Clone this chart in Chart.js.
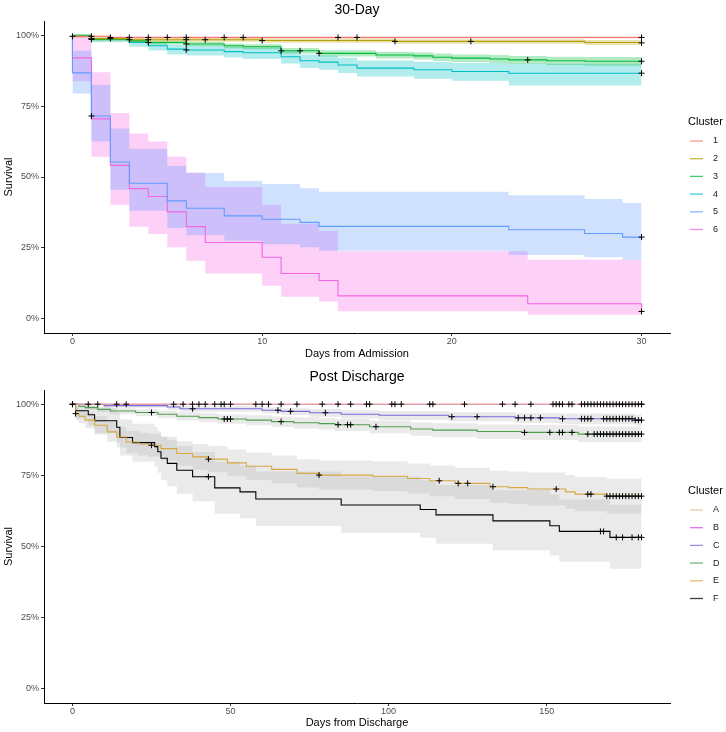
<!DOCTYPE html>
<html>
<head>
<meta charset="utf-8">
<title>Survival by cluster</title>
<script src="https://cdn.jsdelivr.net/npm/chart.js@4.4.1/dist/chart.umd.min.js"></script>
<style>
  body { margin: 0; background: #fff; }
  .panel { position: absolute; left: 0; width: 726px; height: 366px; }
</style>
</head>
<body>
<div class="panel" style="top:0"><canvas id="admission" width="726" height="366"></canvas></div>
<div class="panel" style="top:366px"><canvas id="discharge" width="726" height="366"></canvas></div>
<script>
// ---- 30-day survival (days from admission) ----
const admLabels = ['1', '2', '3', '4', '5', '6'];
const admColors = ['#F8766D', '#B79F00', '#00BA38', '#00BFC4', '#619CFF', '#F564E3'];
const admTicks = [0, 10, 20, 30];

const adm1Days = [0, 0, 2, 30];
const adm1Surv = [100, 99.6, 99.2, 99.2];
const adm1Low = [100, 99.2, 98.8, 98.8];
const adm1High = [100, 99.9, 99.6, 99.6];
const adm1Cens = [0, 1, 2, 3, 4, 5, 6, 8, 9, 14, 15, 30];

const adm2Days = [0, 0, 1, 3, 10, 17, 27, 30];
const adm2Surv = [100, 99.6, 98.8, 98.4, 98.1, 97.8, 97.4, 97.3];
const adm2Low = [100, 99.2, 98.2, 97.7, 97.3, 97.0, 96.5, 96.4];
const adm2High = [100, 99.9, 99.3, 99.0, 98.8, 98.6, 98.3, 98.2];
const adm2Cens = [1, 2, 3, 4, 6, 7, 10, 17, 21, 30];

const adm3Days = [0, 1, 3, 4, 6, 8, 9, 11, 13, 16, 18, 19, 20, 22, 23, 25, 27, 30];
const adm3Surv = [100, 98.5, 98.0, 97.4, 96.9, 96.3, 95.9, 94.5, 93.6, 93.0, 92.7, 92.2, 91.9, 91.6, 91.3, 91.0, 90.8, 90.8];
const adm3Low = [100, 98.0, 97.4, 96.7, 96.1, 95.4, 95.0, 93.5, 92.5, 91.8, 91.4, 90.9, 90.5, 90.2, 89.8, 89.5, 89.2, 89.2];
const adm3High = [100, 98.9, 98.5, 98.0, 97.6, 97.1, 96.8, 95.5, 94.7, 94.2, 93.9, 93.5, 93.2, 93.0, 92.7, 92.4, 92.3, 92.3];
const adm3Cens = [1, 4, 6, 11, 12, 13, 24, 30];

const adm4Days = [0, 1, 3, 4, 5, 6, 8, 9, 11, 12, 13, 14, 15, 18, 20, 23, 30];
const adm4Surv = [100, 98.5, 97.4, 96.3, 95.1, 94.8, 94.2, 93.8, 92.4, 91.0, 90.5, 89.5, 88.4, 87.8, 87.2, 86.6, 86.6];
const adm4Low = [100, 97.5, 95.9, 94.6, 93.2, 92.8, 92.1, 91.6, 90.0, 88.4, 87.8, 86.7, 85.4, 84.6, 83.9, 82.3, 82.3];
const adm4High = [100, 99.2, 98.5, 97.6, 96.6, 96.4, 95.9, 95.6, 94.4, 93.2, 92.8, 92.0, 91.1, 90.6, 90.2, 89.9, 89.9];
const adm4Cens = [6, 30];

const adm5Days = [0, 0, 1, 2, 3, 5, 6, 8, 10, 12, 13, 23, 27, 29, 30];
const adm5Surv = [100, 86.7, 71.5, 55.3, 47.8, 41.6, 39.0, 36.3, 35.1, 34.0, 32.6, 31.4, 30.1, 28.8, 28.8];
const adm5Low = [100, 79.4, 62.5, 45.5, 38.1, 32.0, 29.5, 27.5, 26.3, 25.2, 24.0, 22.5, 21.7, 20.8, 20.8];
const adm5High = [100, 94.5, 82.4, 67.1, 60.0, 53.9, 51.4, 48.6, 47.5, 46.0, 44.8, 43.6, 42.2, 40.8, 40.8];
const adm5Cens = [1, 30];

const adm6Days = [0, 0, 1, 2, 3, 4, 5, 6, 7, 10, 11, 13, 14, 24, 30];
const adm6Surv = [100, 92.0, 70.5, 54.1, 45.9, 43.1, 37.7, 32.5, 26.9, 21.7, 16.0, 13.5, 8.1, 5.3, 2.6];
const adm6Low = [100, 83.8, 57.1, 40.2, 32.5, 29.9, 25.2, 20.5, 16.0, 11.7, 7.8, 6.1, 2.7, 1.4, 1.4];
const adm6High = [100, 99.6, 86.9, 72.6, 65.3, 62.5, 57.1, 51.6, 46.5, 40.1, 33.5, 31.0, 23.8, 20.8, 20.8];
const adm6Cens = [30];

// ---- post discharge survival (days from discharge) ----
const disLabels = ['A', 'B', 'C', 'D', 'E', 'F'];
const disColors = ['#deb887', '#e040e0', '#7b68dd', '#4f9f4f', '#d7a844', '#000000'];
const disTicks = [0, 50, 100, 150];

const disADays = [0, 180];
const disASurv = [100, 100];
const disALow = [100, 100];
const disAHigh = [100, 100];
const disACens = [0, 14, 40, 58, 94, 124, 157, 165, 170, 175, 180];

const disBDays = [0, 180];
const disBSurv = [100, 100];
const disBLow = [100, 100];
const disBHigh = [100, 100];
const disBCens = [0, 5, 8, 17, 32, 35, 38, 42, 45, 47, 48, 50, 60, 62, 66, 71, 79, 84, 88, 93, 101, 102, 104,
  113, 114, 136, 140, 145, 152, 153, 154, 155, 158, 161, 162, 163, 164, 166, 167, 168, 169, 171, 172, 173,
  174, 176, 177, 178, 179, 180];

const disCDays = [0, 10, 30, 34, 60, 66, 75, 85, 97, 119, 140, 154, 178, 180];
const disCSurv = [100, 99.5, 99.0, 98.4, 97.9, 97.5, 97.0, 96.5, 96.1, 95.6, 95.2, 94.9, 94.4, 94.4];
const disCLow = [100, 98.8, 98.1, 97.4, 96.7, 96.2, 95.6, 95.0, 94.5, 93.9, 93.4, 93.0, 92.4, 92.4];
const disCHigh = [100, 100, 99.8, 99.3, 98.9, 98.6, 98.3, 97.9, 97.6, 97.2, 96.9, 96.7, 96.3, 96.3];
const disCCens = [38, 65, 69, 80, 120, 128, 141, 143, 145, 148, 155, 161, 162, 163, 164, 168, 169, 170, 171,
  172, 173, 174, 175, 176, 177, 178, 179, 180];

const disDDays = [0, 2, 4, 8, 12, 20, 27, 33, 40, 46, 55, 63, 70, 78, 83, 94, 107, 114, 128, 142, 160, 180];
const disDSurv = [100, 99.3, 98.8, 98.2, 97.6, 97.1, 96.5, 95.8, 95.3, 94.8, 94.4, 93.9, 93.5, 93.2, 92.8, 92.1, 91.3, 90.9, 90.4, 90.1, 89.5, 89.5];
const disDLow = [100, 98.7, 98.0, 97.2, 96.5, 95.9, 95.1, 94.3, 93.7, 93.1, 92.6, 92.0, 91.5, 91.1, 90.6, 89.8, 88.9, 88.4, 87.8, 87.4, 86.7, 86.7];
const disDHigh = [100, 99.8, 99.5, 99.1, 98.6, 98.2, 97.8, 97.2, 96.8, 96.4, 96.1, 95.7, 95.4, 95.1, 94.8, 94.3, 93.6, 93.3, 92.9, 92.7, 92.2, 92.2];
const disDCens = [25, 48, 49, 50, 66, 84, 87, 88, 96, 143, 151, 154, 155, 158, 163, 165, 166, 167, 168, 169, 170,
  171, 172, 173, 174, 175, 176, 177, 178, 179, 180];

const disEDays = [0, 1, 2, 4, 7, 11, 14, 17, 21, 24, 28, 33, 38, 43, 49, 55, 63, 71, 78, 95, 106, 113, 121, 132, 138, 144, 156, 159, 169, 180];
const disESurv = [100, 96.7, 95.8, 94.4, 92.6, 90.3, 88.5, 86.7, 86.0, 85.6, 84.4, 82.7, 81.5, 80.7, 79.4, 78.2, 77.1, 75.7, 75.1, 74.7, 73.9, 73.1, 72.2, 71.0, 70.7, 70.2, 69.2, 68.4, 67.7, 67.7];
const disELow = [100, 94.5, 93.3, 91.6, 89.4, 86.8, 84.8, 82.8, 82.0, 81.5, 80.2, 78.4, 77.0, 76.1, 74.7, 73.4, 72.2, 70.7, 70.0, 69.5, 68.6, 67.7, 66.7, 65.4, 65.0, 64.4, 63.3, 62.4, 61.6, 61.6];
const disEHigh = [100, 98.9, 98.3, 97.2, 95.8, 93.8, 92.2, 90.6, 90.0, 89.7, 88.6, 87.0, 86.0, 85.3, 84.1, 83.0, 82.0, 80.7, 80.2, 79.9, 79.2, 78.5, 77.7, 76.6, 76.4, 76.0, 75.1, 74.4, 73.8, 73.8];
const disECens = [1, 25, 43, 78, 116, 122, 125, 133, 153, 163, 164, 169, 170, 171, 172, 173, 174, 175, 176, 177, 178, 179, 180];

const disFDays = [0, 1, 5, 7, 14, 15, 19, 26, 27, 28, 30, 33, 38, 45, 53, 58, 85, 110, 115, 133, 151, 154, 170, 180];
const disFSurv = [100, 97.7, 96.3, 94.2, 91.9, 88.3, 86.5, 85.1, 83.3, 81.0, 79.2, 76.8, 74.5, 70.6, 69.2, 66.7, 64.6, 63.0, 61.1, 59.0, 57.3, 55.3, 53.2, 53.2];
const disFLow = [100, 95.0, 92.5, 89.8, 86.5, 82.0, 79.8, 78.0, 75.9, 73.3, 71.2, 68.5, 65.8, 61.5, 59.9, 57.2, 54.8, 53.1, 51.0, 48.7, 46.8, 44.6, 42.2, 42.2];
const disFHigh = [100, 100, 99.9, 98.6, 97.1, 94.6, 93.1, 92.0, 90.6, 88.7, 87.3, 85.3, 83.2, 79.8, 78.5, 76.4, 74.6, 73.2, 71.6, 69.8, 68.3, 66.5, 64.7, 64.7];
const disFCens = [43, 167, 168, 172, 174, 177, 179, 180];

const pctTicks = [0, 25, 50, 75, 100];

Chart.defaults.font.family = "'Liberation Sans', Arial, sans-serif";

// value of the step curve at time t (used to put censor marks on the curve)
function survAt(days, surv, t) {
  let y = surv[0];
  for (let i = 0; i < days.length; i++) if (days[i] <= t) y = surv[i];
  return y;
}

function kmSets(label, color, band, days, surv, low, high, cens) {
  const pts = ys => days.map((d, i) => ({ x: d, y: ys[i] }));
  return [
    { label: label + ' upper', data: pts(high), stepped: true, fill: '+1', backgroundColor: band,
      borderColor: 'transparent', borderWidth: 0, pointRadius: 0, order: 3 },
    { label: label + ' lower', data: pts(low), stepped: true, fill: false,
      borderColor: 'transparent', borderWidth: 0, pointRadius: 0, order: 3 },
    { label: label, data: pts(surv), stepped: true, fill: false, key: true,
      borderColor: color, borderWidth: 1.1, pointRadius: 0, order: 2 },
    { type: 'scatter', label: label + ' censored', data: cens.map(t => ({ x: t, y: survAt(days, surv, t) })),
      pointStyle: 'cross', pointRadius: 3, borderColor: '#000', borderWidth: 1, order: 1 }
  ];
}

function withAlpha(hex, a) {
  const n = parseInt(hex.slice(1), 16);
  return `rgba(${n >> 16},${(n >> 8) & 255},${n & 255},${a})`;
}

// simple legend in the ggplot style, drawn to the right of the panel
const clusterKey = {
  id: 'clusterKey',
  afterDraw(chart, args, opts) {
    const ctx = chart.ctx;
    const items = chart.data.datasets.filter(d => d.key);
    ctx.save();
    ctx.textBaseline = 'middle';
    ctx.textAlign = 'left';
    ctx.fillStyle = '#000';
    ctx.font = "11px 'Liberation Sans', Arial, sans-serif";
    ctx.fillText('Cluster', opts.x, opts.y);
    ctx.font = "9px 'Liberation Sans', Arial, sans-serif";
    items.forEach((d, i) => {
      const y = opts.y + 19.3 + i * 17.7;
      ctx.globalAlpha = 0.75;
      ctx.strokeStyle = d.borderColor;
      ctx.lineWidth = 1.3;
      ctx.beginPath();
      ctx.moveTo(opts.x + 2, y);
      ctx.lineTo(opts.x + 15, y);
      ctx.stroke();
      ctx.globalAlpha = 1;
      ctx.fillStyle = '#1a1a1a';
      ctx.fillText(d.label, opts.x + 25, y);
    });
    ctx.restore();
  }
};

function makeScales(xMin, xMax, xTicks, xTitle, xHeight, titlePad) {
  return {
    x: {
      type: 'linear', min: xMin, max: xMax,
      afterBuildTicks: s => { s.ticks = xTicks.map(v => ({ value: v })); },
      afterFit: s => { s.height = xHeight; },
      grid: { drawOnChartArea: false, tickLength: 3, color: '#333', lineWidth: 1 },
      border: { color: '#000', width: 1 },
      ticks: { color: '#4d4d4d', font: { size: 9 }, padding: 0.5, maxRotation: 0 },
      title: { display: true, text: xTitle, color: '#000', font: { size: 11 }, padding: { top: 0, bottom: titlePad } }
    },
    y: {
      min: -5, max: 105,
      afterBuildTicks: s => { s.ticks = pctTicks.map(v => ({ value: v })); },
      afterFit: s => { s.width = 44; },
      grid: { drawOnChartArea: false, tickLength: 3, color: '#333', lineWidth: 1 },
      border: { color: '#000', width: 1 },
      ticks: { color: '#4d4d4d', font: { size: 9 }, padding: 2, callback: v => v + '%' },
      title: { display: true, text: 'Survival', color: '#000', font: { size: 11 }, padding: { top: 2, bottom: 0 } }
    }
  };
}

function makeChart(id, datasets, title, titlePad, scales, keyY) {
  return new Chart(document.getElementById(id), {
    type: 'line',
    data: { datasets: datasets },
    options: {
      responsive: false,
      animation: false,
      devicePixelRatio: 1,
      layout: { padding: { top: 0, right: 56, bottom: 0, left: 0 } },
      scales: scales,
      plugins: {
        legend: { display: false },
        tooltip: { enabled: false },
        title: { display: true, text: title, fullSize: false, color: '#000',
          font: { size: 14, weight: 'normal' }, padding: titlePad },
        clusterKey: { x: 688, y: keyY }
      }
    },
    plugins: [clusterKey]
  });
}

const admSets = [
  [adm1Days, adm1Surv, adm1Low, adm1High, adm1Cens],
  [adm2Days, adm2Surv, adm2Low, adm2High, adm2Cens],
  [adm3Days, adm3Surv, adm3Low, adm3High, adm3Cens],
  [adm4Days, adm4Surv, adm4Low, adm4High, adm4Cens],
  [adm5Days, adm5Surv, adm5Low, adm5High, adm5Cens],
  [adm6Days, adm6Surv, adm6Low, adm6High, adm6Cens]
].flatMap((c, i) => kmSets(admLabels[i], admColors[i], withAlpha(admColors[i], 0.3), ...c));

const disSets = [
  [disADays, disASurv, disALow, disAHigh, disACens],
  [disBDays, disBSurv, disBLow, disBHigh, disBCens],
  [disCDays, disCSurv, disCLow, disCHigh, disCCens],
  [disDDays, disDSurv, disDLow, disDHigh, disDCens],
  [disEDays, disESurv, disELow, disEHigh, disECens],
  [disFDays, disFSurv, disFLow, disFHigh, disFCens]
].flatMap((c, i) => kmSets(disLabels[i], disColors[i], 'rgba(150,150,150,0.2)', ...c));

makeChart('admission', admSets, '30-Day', { top: 1.6, bottom: 2.6 },
  makeScales(-1.5, 31.5, admTicks, 'Days from Admission', 33, 5.4), 121.7);

makeChart('discharge', disSets, 'Post Discharge', { top: 2.3, bottom: 4.9 },
  makeScales(-9, 189, disTicks, 'Days from Discharge', 29, 2.4), 124.7);
</script>
</body>
</html>
